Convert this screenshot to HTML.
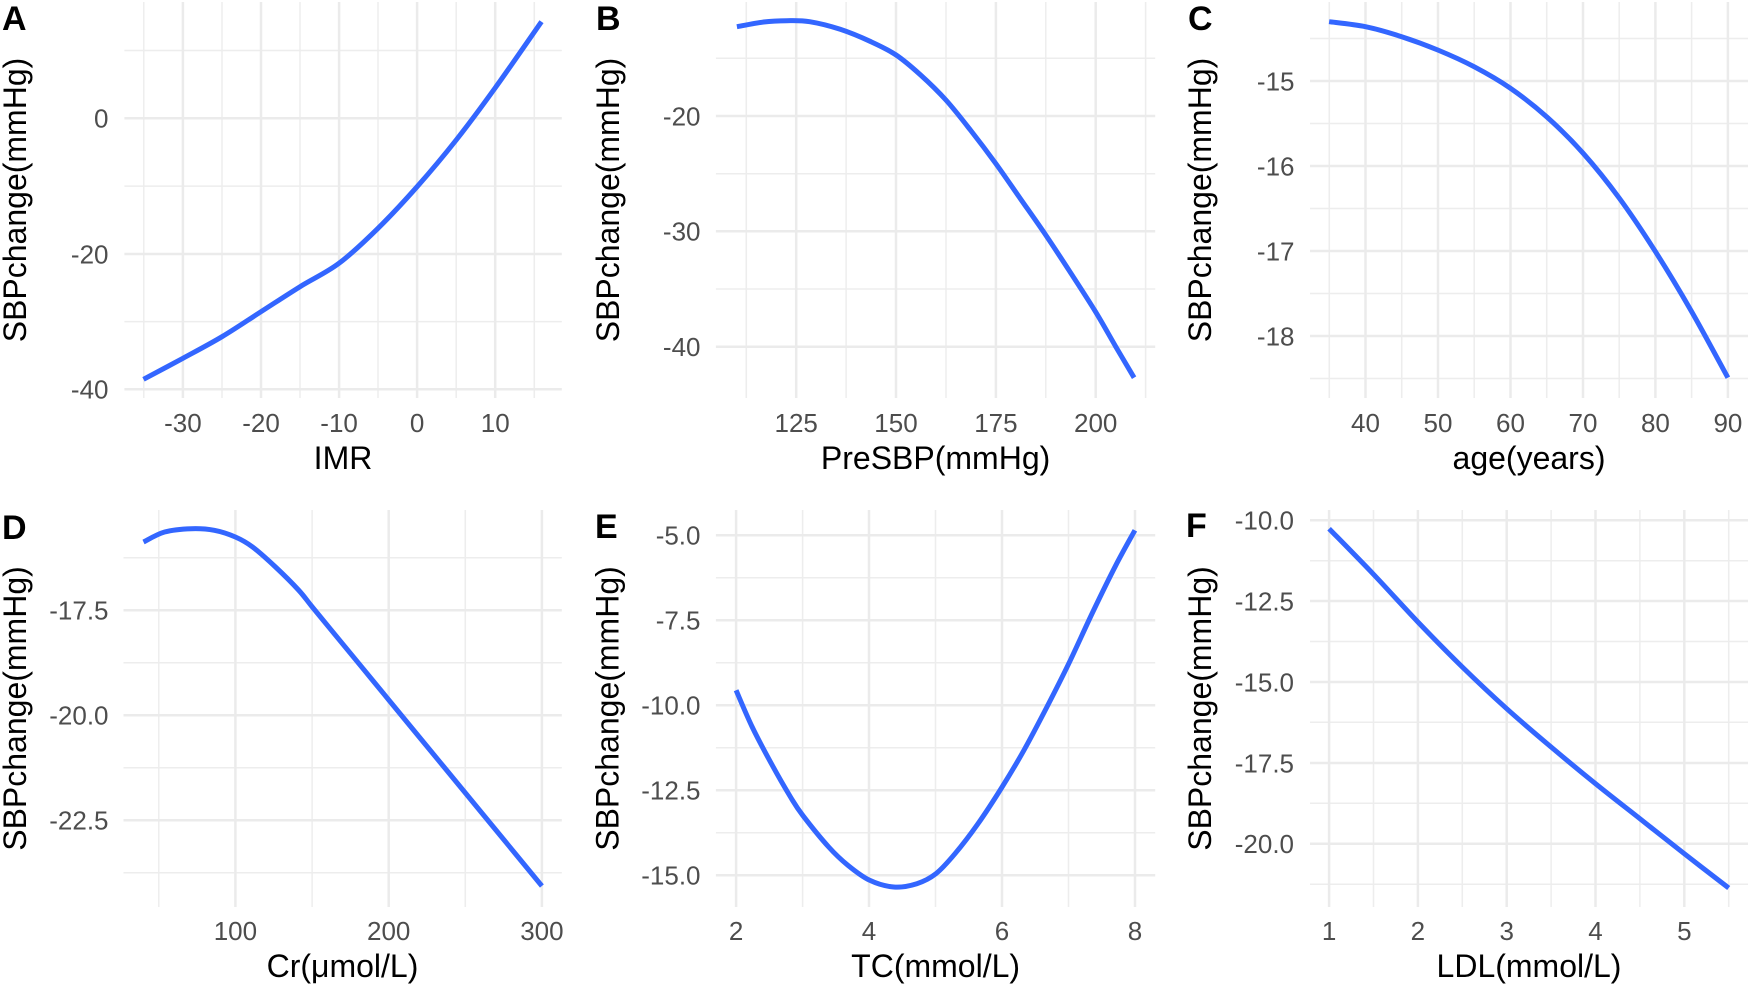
<!DOCTYPE html>
<html><head><meta charset="utf-8"><style>
html,body{margin:0;padding:0;background:#fff;}
svg{display:block;}
text{font-family:"Liberation Sans",Arial,sans-serif;}
.tk{font-size:26px;fill:#4D4D4D;}
.ti{font-size:32px;fill:#000;}
.lb{font-size:34px;font-weight:bold;fill:#000;}
.mj{stroke:#EBEBEB;stroke-width:2.5;}
.mn{stroke:#EDEDED;stroke-width:1.5;}
.c{fill:none;stroke:#3366FF;stroke-width:5;stroke-linejoin:round;stroke-linecap:butt;}
</style></head><body>
<svg id="s" width="1750" height="987" viewBox="0 0 1750 987" xmlns="http://www.w3.org/2000/svg">
<rect width="1750" height="987" fill="#fff"/>
<g id="grid"></g>

<!-- Panel letters -->
<text class="lb" x="2" y="30">A</text>
<text class="lb" x="596" y="30">B</text>
<text class="lb" x="1188" y="30">C</text>
<text class="lb" x="2" y="539">D</text>
<text class="lb" x="595" y="538">E</text>
<text class="lb" x="1186" y="537">F</text>

<!-- Y titles -->
<text class="ti" text-anchor="middle" transform="translate(26,200) rotate(-90)">SBPchange(mmHg)</text>
<text class="ti" text-anchor="middle" transform="translate(619,200) rotate(-90)">SBPchange(mmHg)</text>
<text class="ti" text-anchor="middle" transform="translate(1211,200) rotate(-90)">SBPchange(mmHg)</text>
<text class="ti" text-anchor="middle" transform="translate(26,708.5) rotate(-90)">SBPchange(mmHg)</text>
<text class="ti" text-anchor="middle" transform="translate(618.5,708.5) rotate(-90)">SBPchange(mmHg)</text>
<text class="ti" text-anchor="middle" transform="translate(1211,708.5) rotate(-90)">SBPchange(mmHg)</text>

<!-- X titles -->
<text class="ti" text-anchor="middle" x="343" y="469">IMR</text>
<text class="ti" text-anchor="middle" x="935.6" y="469">PreSBP(mmHg)</text>
<text class="ti" text-anchor="middle" x="1529" y="469">age(years)</text>
<text class="ti" text-anchor="middle" x="342.5" y="977">Cr(μmol/L)</text>
<text class="ti" text-anchor="middle" x="935.6" y="977">TC(mmol/L)</text>
<text class="ti" text-anchor="middle" x="1529" y="977">LDL(mmol/L)</text>

<!-- Y tick labels -->
<g class="tk" text-anchor="end">
<text x="108.5" y="127.7">0</text><text x="108.5" y="263.4">-20</text><text x="108.5" y="398.7">-40</text>
<text x="700.5" y="125.4">-20</text><text x="700.5" y="240.7">-30</text><text x="700.5" y="356.1">-40</text>
<text x="1294.5" y="90.4">-15</text><text x="1294.5" y="175.4">-16</text><text x="1294.5" y="260.4">-17</text><text x="1294.5" y="345.4">-18</text>
<text x="108.5" y="619.7">-17.5</text><text x="108.5" y="724.7">-20.0</text><text x="108.5" y="829.7">-22.5</text>
<text x="700.5" y="544.7">-5.0</text><text x="700.5" y="629.7">-7.5</text><text x="700.5" y="714.7">-10.0</text><text x="700.5" y="799.7">-12.5</text><text x="700.5" y="884.7">-15.0</text>
<text x="1294" y="529.7">-10.0</text><text x="1294" y="610.4">-12.5</text><text x="1294" y="691.4">-15.0</text><text x="1294" y="772.4">-17.5</text><text x="1294" y="853.1">-20.0</text>
</g>

<!-- X tick labels -->
<g class="tk" text-anchor="middle">
<text x="182.9" y="432">-30</text><text x="261" y="432">-20</text><text x="339.1" y="432">-10</text><text x="417.1" y="432">0</text><text x="495.2" y="432">10</text>
<text x="796.2" y="432">125</text><text x="896" y="432">150</text><text x="995.9" y="432">175</text><text x="1095.7" y="432">200</text>
<text x="1365.5" y="432">40</text><text x="1438" y="432">50</text><text x="1510.5" y="432">60</text><text x="1583" y="432">70</text><text x="1655.4" y="432">80</text><text x="1727.9" y="432">90</text>
<text x="235.4" y="940">100</text><text x="388.7" y="940">200</text><text x="541.9" y="940">300</text>
<text x="736.1" y="940">2</text><text x="869" y="940">4</text><text x="1002" y="940">6</text><text x="1135" y="940">8</text>
<text x="1329.1" y="940">1</text><text x="1417.9" y="940">2</text><text x="1506.7" y="940">3</text><text x="1595.5" y="940">4</text><text x="1684.3" y="940">5</text>
</g>

<!-- Curves -->
<polyline class="c" points="143.5,379.3 182.9,358.3 222,336.7 261,311.7 300,286.7 339,263.3 378,228.3 417.1,186.7 456.2,140 495.6,87.3 541.5,21.7"/>
<polyline class="c" points="736.9,26.7 763.7,22 786.7,20.7 809.6,21.7 840.2,29.3 870.9,41.7 896.1,55 920.6,75 945.9,100 970.4,130 995.6,163.3 1020.1,198.3 1045.7,235 1069.9,271.7 1095.5,311.7 1115.8,346.7 1134.1,377.7"/>
<polyline class="c" points="1329.1,21.7 1365.5,26.7 1401.7,36.7 1437.8,50 1474.1,66.7 1510.5,88.3 1546.9,117 1583.2,153.3 1619.4,198.3 1655.5,251.7 1691.7,311.7 1727.9,377.7"/>
<polyline class="c" points="143.5,542 164.6,532 191.4,528.7 214.3,530.3 235.4,537 252.6,547 275.5,567 298.5,590 312.3,607 336.8,636.8 363.6,669.3 388.8,700 421,739.1 465.4,793 497.5,832 541.9,886"/>
<polyline class="c" points="736.1,690.3 752.2,727 771.4,763.7 790.5,797 802.7,815.3 828.7,847 847.9,865.3 869.7,880.3 893.8,887 916.8,883.7 935.9,873.7 955,853.7 978,823.7 1002.1,787 1023.9,750.3 1046.9,707 1068.7,663.7 1092.8,612 1115.8,565.3 1134.9,530.3"/>
<polyline class="c" points="1329.1,528.7 1373.5,574.3 1417.9,622 1462.3,667 1506.7,708.7 1551.1,747 1595.5,783.7 1639.9,818.7 1684.3,853.7 1728.7,888"/>
</svg>
<script>
(function(){
var NS="http://www.w3.org/2000/svg";
var g=document.getElementById('grid');
function line(x1,y1,x2,y2,c){var l=document.createElementNS(NS,'line');l.setAttribute('x1',x1);l.setAttribute('y1',y1);l.setAttribute('x2',x2);l.setAttribute('y2',y2);l.setAttribute('class',c);g.appendChild(l);}
var P=[
 {l:124.4,r:561.8,t:2,b:398,hmj:[118.3,254,389.3],hmn:[50.5,186.1,321.6],vmj:[182.9,261,339.1,417.1,495.2],vmn:[143.8,222,300,378,456.2,534.3]},
 {l:715.9,r:1155.2,t:2,b:398,hmj:[116,231.3,346.7],hmn:[58.3,173.7,289],vmj:[796.2,896,995.9,1095.7],vmn:[746.3,846.1,946,1045.8,1145.6]},
 {l:1310,r:1748,t:2,b:398,hmj:[81,166,251,336],hmn:[38.5,123.5,208.5,293.5,378.5],vmj:[1365.5,1438,1510.5,1583,1655.4,1727.9],vmn:[1329.3,1401.7,1474.2,1546.7,1619.2,1691.6]},
 {l:123.5,r:561.8,t:510,b:907,hmj:[610.3,715.3,820.3],hmn:[557.8,662.8,767.8,872.8],vmj:[235.4,388.7,541.9],vmn:[158.8,312.1,465.3]},
 {l:715.9,r:1155.2,t:510,b:907,hmj:[535.3,620.3,705.3,790.3,875.3],hmn:[577.8,662.8,747.8,832.8],vmj:[736.1,869,1002,1135],vmn:[802.6,935.5,1068.5]},
 {l:1310,r:1748,t:510,b:907,hmj:[520.3,601,682,763,843.7],hmn:[560.7,641.5,722.3,803.3,884.3],vmj:[1329.1,1417.9,1506.7,1595.5,1684.3],vmn:[1373.5,1462.3,1551.1,1639.9,1728.7]}
];
P.forEach(function(p){
 p.hmn.forEach(function(y){line(p.l,y,p.r,y,'mn');});
 p.vmn.forEach(function(x){line(x,p.t,x,p.b,'mn');});
 p.hmj.forEach(function(y){line(p.l,y,p.r,y,'mj');});
 p.vmj.forEach(function(x){line(x,p.t,x,p.b,'mj');});
});
var pls=document.querySelectorAll('polyline.c');
for(var i=0;i<pls.length;i++){
 var pl=pls[i];
 var pts=pl.getAttribute('points').trim().split(/\s+/).map(function(s){var a=s.split(',');return [parseFloat(a[0]),parseFloat(a[1])];});
 var d='M'+pts[0][0]+','+pts[0][1];
 for(var k=0;k<pts.length-1;k++){
  var p0=pts[k-1]||pts[k],p1=pts[k],p2=pts[k+1],p3=pts[k+2]||pts[k+1];
  var c1x=p1[0]+(p2[0]-p0[0])/6,c1y=p1[1]+(p2[1]-p0[1])/6;
  var c2x=p2[0]-(p3[0]-p1[0])/6,c2y=p2[1]-(p3[1]-p1[1])/6;
  d+=' C'+c1x.toFixed(2)+','+c1y.toFixed(2)+' '+c2x.toFixed(2)+','+c2y.toFixed(2)+' '+p2[0]+','+p2[1];
 }
 var path=document.createElementNS(NS,'path');
 path.setAttribute('d',d);path.setAttribute('class','c');
 pl.parentNode.replaceChild(path,pl);
}
})();
</script>
</body></html>
